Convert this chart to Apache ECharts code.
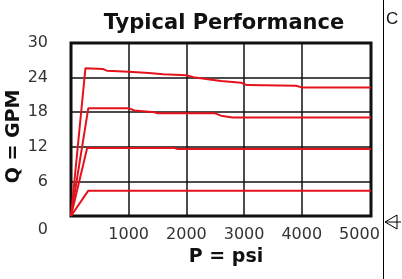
<!DOCTYPE html>
<html><head><meta charset="utf-8">
<script src="https://cdn.jsdelivr.net/npm/echarts@6/dist/echarts.min.js"></script>
<style>html,body{margin:0;padding:0;background:#fff}#c{width:402px;height:279px}</style>
</head><body><div id="c"></div>
<script>
var titleText = 'Typical Performance';
var xName = 'P = psi';
var yName = 'Q = GPM';
var yTicks = [0, 6, 12, 18, 24, 30];
var xTicks = [1000, 2000, 3000, 4000, 5000];
var xGridLines = [1000, 2000, 3000, 4000];
// each curve: [P (psi), Q (GPM)]
var curve1 = [[0,0],[250,25.6],[550,25.5],[620,25.2],[1000,25.0],[1350,24.8],[1600,24.6],[2000,24.4],[2150,24.0],[2600,23.4],[2950,23.1],[3050,22.7],[3900,22.6],[4000,22.3],[5200,22.3]];
var curve2 = [[0,0],[300,18.7],[1000,18.7],[1100,18.3],[1450,18.0],[1500,17.8],[2500,17.8],[2600,17.4],[2800,17.1],[5200,17.1]];
var curve3 = [[0,0],[280,11.8],[1800,11.8],[1850,11.6],[5200,11.6]];
var curve4 = [[0,0],[300,4.4],[5200,4.4]];

var red = '#e5121c';
function mk(d){return {type:'line',data:d,showSymbol:false,smooth:false,lineStyle:{color:red,width:2},itemStyle:{color:red},z:5};}

var gridSeries = {type:'line',data:[],z:2,silent:true,
  markLine:{silent:true,symbol:['none','none'],label:{show:false},
    lineStyle:{color:'#111',width:1.5,type:'solid'},
    data:xGridLines.map(function(v){return {xAxis:v};})}};

var chart = echarts.init(document.getElementById('c'), null, {renderer:'canvas'});
chart.setOption({
  animation:false,
  title:{text:titleText,left:219,top:8,textAlign:'center',
    textStyle:{fontFamily:'DejaVu Sans',fontWeight:'bold',fontSize:21,color:'#111'}},
  grid:{left:71,right:31,top:43,bottom:63,show:true,borderColor:'#111',borderWidth:3,backgroundColor:'#fff',
    containLabel:false,outerBoundsMode:'none'},
  xAxis:{type:'value',min:0,max:5200,interval:1000,
    name:xName,nameLocation:'middle',nameGap:32,nameMoveOverlap:false,
    nameTextStyle:{fontFamily:'DejaVu Sans',fontWeight:'bold',fontSize:19,color:'#111',padding:[0,0,0,10]},
    axisLine:{show:false},axisTick:{show:false},
    axisLabel:{margin:11,fontFamily:'DejaVu Sans',fontSize:16,color:'#333',
      formatter:function(v){return xTicks.indexOf(v)>=0?String(v):'';}},
    splitLine:{show:false}},
  yAxis:{type:'value',min:0,max:30,interval:6,
    name:yName,nameLocation:'middle',nameGap:47,nameRotate:90,nameMoveOverlap:false,
    nameTextStyle:{fontFamily:'DejaVu Sans',fontWeight:'bold',fontSize:19,color:'#111',padding:[0,0,0,-14]},
    axisLine:{show:false},axisTick:{show:false},
    axisLabel:{margin:23,fontFamily:'DejaVu Sans',fontSize:16,color:'#333',
      formatter:function(v){ if(yTicks.indexOf(v)<0) return ''; return v===0?'{z|0}':String(v);},
      rich:{z:{fontFamily:'DejaVu Sans',fontSize:16,color:'#333',padding:[28,0,0,0]}}},
    splitLine:{show:true,lineStyle:{color:'#111',width:1.5}}},
  graphic:[
    {type:'line',shape:{x1:383.5,y1:0,x2:383.5,y2:279},style:{stroke:'#000',lineWidth:1}},
    {type:'text',x:386,y:11,style:{text:'C',fontFamily:'Liberation Sans',fontSize:17,fill:'#111'}},
    {type:'polyline',shape:{points:[[397,215],[385,222],[397,229],[397,215]]},style:{stroke:'#000',lineWidth:1,fill:null}},
    {type:'line',shape:{x1:385,y1:222,x2:401,y2:222},style:{stroke:'#000',lineWidth:1}}
  ],
  series:[gridSeries,mk(curve1),mk(curve2),mk(curve3),mk(curve4)]
});
</script></body></html>
